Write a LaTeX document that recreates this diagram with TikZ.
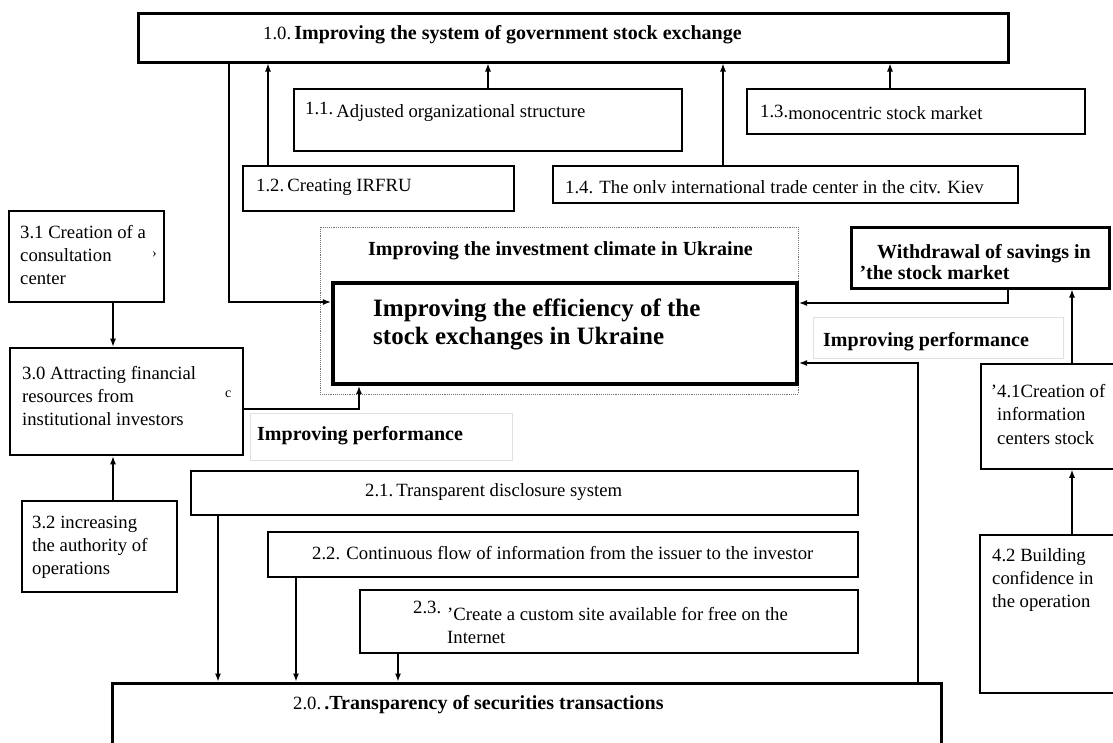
\documentclass[tikz,border=0pt]{standalone}
\usepackage{fontspec}
\setmainfont{Liberation Serif}
\usetikzlibrary{arrows.meta,fit}
\tikzset{
  box/.style={draw, line width=1.6pt, inner sep=0pt},
  thickbox/.style={box, line width=3pt},
  txt/.style={anchor=west, inner sep=0pt, align=left, font=\fontsize{18.7}{23}\selectfont},
  btxt/.style={txt, font=\fontsize{20}{21}\selectfont\bfseries},
  link/.style={line width=1.2pt},
  faint/.style={draw=black!12, line width=1pt}
}
\begin{document}
\begin{tikzpicture}[x=1pt, y=-1pt, >={Latex[length=8pt,width=6pt]}]
\useasboundingbox (0,0) rectangle (1113,742);
\clip (0,0) rectangle (1113,742);
% boxes
\node[thickbox, fit={(138,13) (1008,62)}] (b10) {};
\node[box, fit={(294,89) (682,151)}] (b11) {};
\node[box, fit={(747,89) (1085,134)}] (b13) {};
\node[box, fit={(243,166) (514,211)}] (b12) {};
\node[box, fit={(553,166) (1018,203)}] (b14) {};
\node[draw=black!55, densely dotted, line width=0.9pt, inner sep=0pt, fit={(320,227) (798,394)}] (clim) {};
\node[draw, line width=4.2pt, inner sep=0pt, fit={(333,283) (797,384)}] (main) {};
\node[box, fit={(9,211) (164,302)}] (b31) {};
\node[thickbox, line width=2.6pt, fit={(10,348) (243,455)}] (b30) {};
\node[box, fit={(22,501) (177,592)}] (b32) {};
\node[box, fit={(191,471) (858,515)}] (b21) {};
\node[box, fit={(268,532) (858,577)}] (b22) {};
\node[box, fit={(360,590) (858,653)}] (b23) {};
\node[thickbox, fit={(112,683) (941,760)}] (b20) {};
\node[thickbox, fit={(851,227) (1109,288)}] (bws) {};
\node[box, fit={(981,364) (1125,469)}] (b41) {};
\node[box, fit={(980,535) (1125,693)}] (b42) {};
\draw[faint] (250,413) rectangle (512,460);
\draw[faint] (813,317) rectangle (1063,358);
% texts
\node[txt] (t10) at (263,35) {1.0.\,\textbf{\fontsize{20}{21}\selectfont Improving the system of government stock exchange}};
\node[txt] (t11) at (305,112) {\raisebox{3pt}{1.1.}\,Adjusted organizational structure};
\node[txt] (t13) at (760,112) {\raisebox{2pt}{1.3.}monocentric stock market};
\node[txt] (t12) at (256,187) {1.2.\,Creating IRFRU};
\node[txt] (t14) at (565,187) {1.4.\,\,The onlv international trade center in the citv. Kiev};
\node[btxt] (tclim) at (368,251) {Improving the investment climate in Ukraine};
\node[txt, font=\fontsize{25}{28}\selectfont\bfseries] (tmain) at (373,324) {Improving the efficiency of the\\stock exchanges in Ukraine};
\node[txt] (t31) at (20,255) {3.1 Creation of a\\consultation\\center};
\node[txt, font=\fontsize{14}{14}\selectfont] (s31) at (152,255) {›};
\node[txt] (t30) at (22,396) {3.0 Attracting financial\\resources from\\institutional investors};
\node[txt, font=\fontsize{14}{14}\selectfont] (s30) at (225,394) {c};
\node[btxt] (tperf1) at (257,436) {Improving performance};
\node[btxt] (tperf2) at (823,342) {Improving performance};
\node[txt] (t32) at (32,547) {3.2 increasing\\the authority of\\operations};
\node[txt] (t21) at (365,492) {2.1.\,Transparent disclosure system};
\node[txt] (t22) at (312,553) {2.2.\,\,Continuous flow of information from the issuer to the investor};
\node[txt] (n23) at (413,607) {2.3.};
\node[txt] (t23) at (447,625) {'Create a custom site available for free on the\\Internet};
\node[txt] (t20) at (293,705) {2.0.\,\textbf{\fontsize{20}{21}\selectfont .Transparency of securities transactions}};
\node[btxt] (tws) at (866,262) {\hspace*{11pt}Withdrawal of savings in\\\llap{'}the stock market};
\node[txt, font=\fontsize{18.7}{23.5}\selectfont] (t41) at (997,414) {\llap{'}4.1Creation of\\information\\centers stock};
\node[txt] (t42) at (992,580) {4.2 Building\\confidence in\\the operation};
% connectors
\draw[link,->] (b12.north -| 268,0) -- (b10.south -| 268,0);
\draw[link,->] (b11.north -| 488,0) -- (b10.south -| 488,0);
\draw[link,->] (b14.north -| 723,0) -- (b10.south -| 723,0);
\draw[link,->] (b13.north -| 890,0) -- (b10.south -| 890,0);
\draw[link,->] (b10.south -| 229,0) |- (main.west |- 0,302);
\draw[link,->] (b31.south -| 113,0) -- (b30.north -| 113,0);
\draw[link,->] (b32.north -| 113,0) -- (b30.south -| 113,0);
\draw[link,->] (b30.east |- 0,409) -| (main.south -| 359,0);
\draw[link,->] (b21.south -| 218,0) -- (b20.north -| 218,0);
\draw[link,->] (b22.south -| 296,0) -- (b20.north -| 296,0);
\draw[link,->] (b23.south -| 398,0) -- (b20.north -| 398,0);
\draw[link,->] (b20.north -| 918,0) |- (main.east |- 0,363);
\draw[link,->] (bws.south -| 1008,0) |- (main.east |- 0,303);
\draw[link,->] (b41.north -| 1072,0) -- (bws.south -| 1072,0);
\draw[link,->] (b42.north -| 1072,0) -- (b41.south -| 1072,0);
\end{tikzpicture}
\end{document}
